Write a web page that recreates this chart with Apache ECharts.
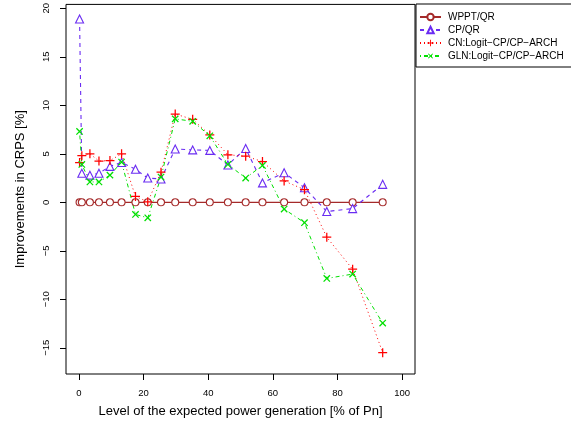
<!DOCTYPE html>
<html>
<head>
    <meta charset="utf-8">
    <script src="https://cdn.jsdelivr.net/npm/echarts@6.0.0/dist/echarts.min.js"></script>
    <style>
        body { margin: 0; background: #fff; }
    </style>
</head>
<body>
    <div id="echartsMain" style="width: 571px; height: 429px;"></div>
</body>
</html>

<script type="text/javascript">
    // expected power level (% of Pn)
    let levels = [0.2, 0.9, 3.4, 6.2, 9.6, 13.2, 17.5, 21.3, 25.4, 29.8, 35.2, 40.5, 46.1, 51.6, 56.8, 63.5, 69.8, 76.7, 84.7, 94.0]

    let wpptQR = [0, 0, 0, 0, 0, 0, 0, 0, 0, 0, 0, 0, 0, 0, 0, 0, 0, 0, 0, 0]
    let cpQR = [18.9, 3.0, 2.8, 3.0, 3.7, 4.1, 3.4, 2.5, 2.4, 5.5, 5.4, 5.35, 3.85, 5.55, 2.0, 3.05, 1.5, -0.95, -0.65, 1.85]
    let cnLogit = [4.1, 4.8, 5.0, 4.25, 4.3, 5.0, 0.6, 0.05, 3.1, 9.1, 8.55, 6.95, 4.9, 4.75, 4.2, 2.2, 1.3, -3.6, -6.9, -15.5]
    let glnLogit = [7.3, 3.9, 2.1, 2.1, 2.8, 4.15, -1.25, -1.6, 2.6, 8.6, 8.35, 6.85, 3.9, 2.5, 3.8, -0.7, -2.1, -7.85, -7.4, -12.45]

    let xTicks = [0, 20, 40, 60, 80, 100]
    let yTicks = [-15, -10, -5, 0, 5, 10, 15, 20]

    let names = ['WPPT/QR', 'CP/QR', 'CN:Logit\u2212CP/CP\u2212ARCH', 'GLN:Logit\u2212CP/CP\u2212ARCH']

    const plusPath = 'path://M4.3,0H5.7V4.3H10V5.7H5.7V10H4.3V5.7H0V4.3H4.3Z'
    const font = 'Liberation Sans, Arial, sans-serif'

    function pairs(ys) {
        return levels.map((x, i) => [x, ys[i]])
    }

    function draw() {
        let myChart = echarts.init(document.getElementById('echartsMain'), null, { renderer: 'canvas' });

        let option = {
            animation: false,
            backgroundColor: '#fff',
            grid: {
                left: 66,
                right: 156,
                top: 4,
                bottom: 55,
                show: true,
                borderColor: '#000',
                borderWidth: 1
            },
            legend: {
                orient: 'vertical',
                left: 416,
                top: 4,
                padding: [8, 60, 6, 3],
                itemGap: 3,
                itemWidth: 21,
                itemHeight: 8,
                borderColor: '#000',
                borderWidth: 1,
                backgroundColor: '#fff',
                textStyle: { fontFamily: font, fontSize: 10, color: '#000', padding: [0, 0, 0, 2] },
                data: names
            },
            xAxis: {
                type: 'value',
                min: -4,
                max: 104,
                splitLine: { show: false },
                axisLine: { show: false, onZero: false },
                axisTick: { show: true, length: 6, customValues: xTicks, lineStyle: { color: '#000' } },
                axisLabel: {
                    customValues: xTicks,
                    margin: 14,
                    fontFamily: font,
                    fontSize: 9.5,
                    color: '#000'
                },
                name: 'Level of the expected power generation [% of Pn]',
                nameLocation: 'middle',
                nameGap: 31,
                nameTextStyle: { fontFamily: font, fontSize: 13, color: '#000' }
            },
            yAxis: {
                type: 'value',
                min: -17.7,
                max: 20.4,
                splitLine: { show: false },
                axisLine: { show: false, onZero: false },
                axisTick: { show: true, length: 6, customValues: yTicks, lineStyle: { color: '#000' } },
                axisLabel: {
                    customValues: yTicks,
                    rotate: 90,
                    margin: 15,
                    fontFamily: font,
                    fontSize: 9.5,
                    color: '#000',
                    formatter: v => String(v).replace('-', '\u2212')
                },
                name: 'Improvements in CRPS [%]',
                nameLocation: 'middle',
                nameGap: 39,
                nameTextStyle: { fontFamily: font, fontSize: 13, color: '#000' }
            },
            series: [
                {
                    name: names[0],
                    type: 'line',
                    data: pairs(wpptQR),
                    symbol: 'circle',
                    symbolSize: 7,
                    lineStyle: { color: '#a52a2a', width: 1.2, type: 'solid' },
                    itemStyle: { color: '#fff', borderColor: '#a52a2a', borderWidth: 1.1 }
                },
                {
                    name: names[1],
                    type: 'line',
                    data: pairs(cpQR),
                    symbol: 'triangle',
                    symbolSize: 8,
                    lineStyle: { color: '#6a2cf2', width: 1.1, type: [4, 4] },
                    itemStyle: { color: '#fff', borderColor: '#6a2cf2', borderWidth: 1.1 }
                },
                {
                    name: names[2],
                    type: 'line',
                    data: pairs(cnLogit),
                    symbol: plusPath,
                    symbolSize: 9,
                    lineStyle: { color: '#ff0000', width: 1, type: [1, 3] },
                    itemStyle: { color: '#ff0000' }
                },
                {
                    name: names[3],
                    type: 'line',
                    data: pairs(glnLogit),
                    symbol: plusPath,
                    symbolRotate: 45,
                    symbolSize: 9,
                    lineStyle: { color: '#00e000', width: 1, type: [1, 3, 4, 3] },
                    itemStyle: { color: '#00e000' }
                }
            ]
        };
        myChart.setOption(option);
    }

    draw()
</script>
